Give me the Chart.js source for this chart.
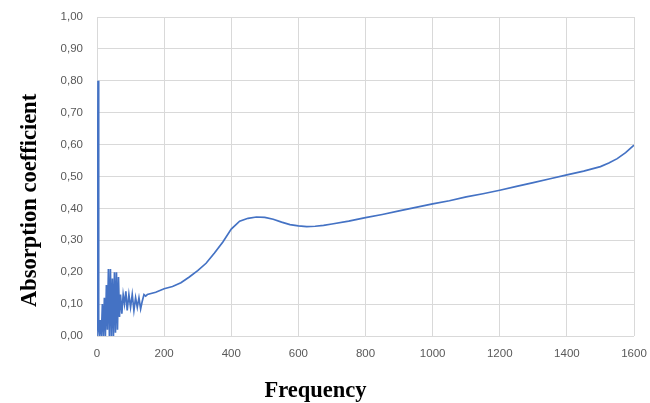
<!DOCTYPE html>
<html>
<head>
<meta charset="utf-8">
<script src="https://cdn.jsdelivr.net/npm/chart.js@4"></script>
<style>
  html, body { margin: 0; padding: 0; background: #fff; }
  #wrap { width: 650px; height: 403px; position: relative; }
</style>
</head>
<body>
<div id="wrap"><canvas id="myChart"></canvas></div>
<script>
// frequency (Hz) and absorption coefficient
const frequencies = [0, 3, 5, 7, 10, 13, 16, 19, 22, 25, 28, 31, 34, 37, 40, 43, 46, 49, 52, 55,
  58, 61, 64, 67, 70, 74, 78, 82, 86, 90, 95, 100, 105, 110, 115, 120, 125, 130, 135, 140, 145,
  150, 175, 200, 225, 250, 275, 300, 325, 350, 375, 400, 425, 450, 475, 500, 525, 550, 575, 600,
  625, 650, 675, 700, 750, 800, 850, 900, 950, 1000, 1050, 1100, 1150, 1200, 1250, 1300, 1350,
  1400, 1450, 1500, 1525, 1550, 1575, 1600]
const absorption = [0, 0.80, 0.02, 0.00, 0.05, 0.00, 0.10, 0.00, 0.12, 0.00, 0.16, 0.02, 0.21, 0.00, 0.21, 0.00, 0.18, 0.00, 0.20, 0.01,
  0.20, 0.02, 0.185, 0.06, 0.13, 0.07, 0.13, 0.10, 0.14, 0.08, 0.13, 0.09, 0.13, 0.08, 0.12, 0.09, 0.12, 0.085, 0.11, 0.13, 0.125,
  0.13, 0.137, 0.148, 0.155, 0.167, 0.185, 0.205, 0.228, 0.26, 0.295, 0.335, 0.36, 0.369, 0.373, 0.372, 0.366, 0.357, 0.349, 0.345,
  0.343, 0.344, 0.347, 0.351, 0.36, 0.371, 0.381, 0.392, 0.403, 0.414, 0.424, 0.436, 0.446, 0.457, 0.469, 0.481, 0.493,
  0.505, 0.517, 0.531, 0.542, 0.556, 0.575, 0.598]

const xTitle = 'Frequency'
const yTitle = 'Absorption coefficient'

let points = frequencies.map((f, i) => ({x: f, y: absorption[i]}))

const gridColor = '#d9d9d9'
const tickFont = {family: 'Liberation Sans', size: 11.5}
const titleFont = 'bold 22.5px "Liberation Serif"'

// axis titles sit off-centre in the original, so they are drawn by hand
const axisTitles = {
  id: 'axisTitles',
  afterDraw(chart) {
    let c = chart.ctx
    let area = chart.chartArea
    c.save()
    c.font = titleFont
    c.fillStyle = '#000'
    c.textAlign = 'center'
    c.textBaseline = 'middle'
    c.fillText(xTitle, area.left + area.width * 0.407, area.bottom + 55)
    c.translate(30, area.top + area.height * 0.575)
    c.rotate(-Math.PI / 2)
    c.fillText(yTitle, 0, 0)
    c.restore()
  }
}

var ctx = document.querySelector('#myChart').getContext('2d')
var myLineChart = new Chart(ctx, {
  type: 'line',
  data: {
    datasets: [{
      data: points,
      borderColor: '#4472C4',
      borderWidth: 1.7,
      pointRadius: 0,
      tension: 0,
      fill: false
    }]
  },
  options: {
    responsive: true,
    maintainAspectRatio: false,
    animation: false,
    layout: {padding: {top: 17, right: 16, left: 0, bottom: 0}},
    plugins: {legend: {display: false}, tooltip: {enabled: false}},
    scales: {
      x: {
        type: 'linear',
        min: 0,
        max: 1600,
        ticks: {stepSize: 200, color: '#595959', font: tickFont, padding: 11, callback: v => String(v)},
        grid: {color: gridColor, drawTicks: false},
        border: {display: false},
        afterFit: scale => {
          scale.height = 67
          scale.paddingLeft = 0
          scale.paddingRight = 0
        }
      },
      y: {
        min: 0,
        max: 1,
        ticks: {
          stepSize: 0.1,
          color: '#595959',
          font: tickFont,
          padding: 14,
          callback: v => v.toFixed(2).replace('.', ',')
        },
        grid: {color: gridColor, drawTicks: false},
        border: {display: false},
        afterFit: scale => {
          scale.width = 97
          scale.paddingTop = 0
          scale.paddingBottom = 0
        }
      }
    }
  },
  plugins: [axisTitles]
})
</script>
</body>
</html>
